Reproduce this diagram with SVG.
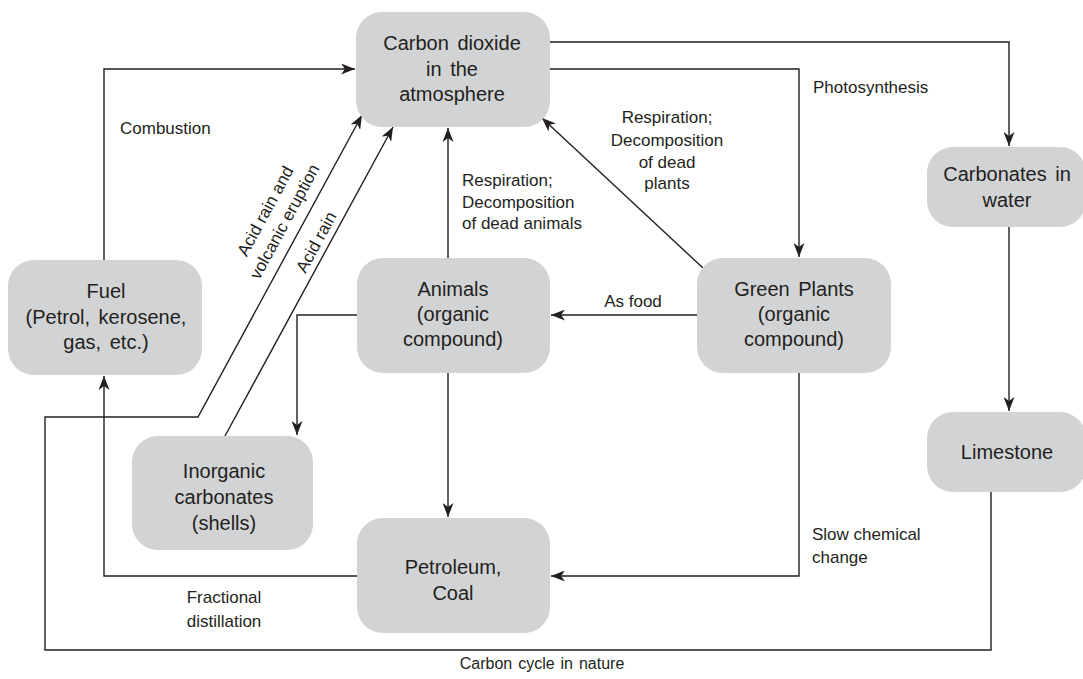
<svg xmlns="http://www.w3.org/2000/svg" width="1083" height="679" viewBox="0 0 1083 679">
<style>
.n rect{fill:#d1d3d4}
.n text{font-family:"Liberation Sans",Arial,sans-serif;font-size:20px;fill:#231f20;text-anchor:middle;word-spacing:3px}
.l{font-family:"Liberation Sans",Arial,sans-serif;font-size:17px;fill:#231f20}
.c{text-anchor:middle}
#connectors path{fill:none;stroke:#231f20;stroke-width:1.4}
</style>
<defs>
<marker id="ah" markerUnits="userSpaceOnUse" markerWidth="15" markerHeight="11" refX="14" refY="5.5" orient="auto">
<path d="M0,0 L14,5.5 L0,11 L4,5.5 z" fill="#231f20"/>
</marker>
</defs>
<rect width="1083" height="679" fill="#fff"/>
<g id="connectors">
<path d="M550,42 H1009 V146" marker-end="url(#ah)"/>
<path d="M550,69 H799 V257" marker-end="url(#ah)"/>
<path d="M703,268 L542,118" marker-end="url(#ah)"/>
<path d="M448,258 V128" marker-end="url(#ah)"/>
<path d="M697,315 H551" marker-end="url(#ah)"/>
<path d="M357,315 H297 V435" marker-end="url(#ah)"/>
<path d="M448,373 V517" marker-end="url(#ah)"/>
<path d="M799,373 V576 H551" marker-end="url(#ah)"/>
<path d="M357,576 H104 V376" marker-end="url(#ah)"/>
<path d="M104,260 V69 H355" marker-end="url(#ah)"/>
<path d="M225,436 L393,127" marker-end="url(#ah)"/>
<path d="M1009,227 V411" marker-end="url(#ah)"/>
<path d="M991,492 V650 H45 V417 H198 L362,115" marker-end="url(#ah)"/>
</g>
<g id="co2" class="n"><rect x="356" y="12" width="194" height="115" rx="26"/>
<text x="452" y="50">Carbon dioxide</text><text x="452" y="76">in the</text><text x="452" y="101">atmosphere</text></g>
<g id="fuel" class="n"><rect x="8" y="260" width="194" height="115" rx="26"/>
<text x="106" y="298">Fuel</text><text x="106" y="324">(Petrol, kerosene,</text><text x="106" y="349">gas, etc.)</text></g>
<g id="animals" class="n"><rect x="357" y="258" width="193" height="115" rx="26"/>
<text x="453" y="296">Animals</text><text x="453" y="321">(organic</text><text x="453" y="346">compound)</text></g>
<g id="plants" class="n"><rect x="697" y="258" width="194" height="115" rx="26"/>
<text x="794" y="296">Green Plants</text><text x="794" y="321">(organic</text><text x="794" y="346">compound)</text></g>
<g id="inorganic" class="n"><rect x="132" y="436" width="181" height="114" rx="26"/>
<text x="224" y="478">Inorganic</text><text x="224" y="504">carbonates</text><text x="224" y="530">(shells)</text></g>
<g id="petroleum" class="n"><rect x="357" y="518" width="193" height="115" rx="26"/>
<text x="453" y="574">Petroleum,</text><text x="453" y="600">Coal</text></g>
<g id="carbonates" class="n"><rect x="927" y="147" width="159" height="80" rx="26"/>
<text x="1007" y="181">Carbonates in</text><text x="1007" y="207">water</text></g>
<g id="limestone" class="n"><rect x="927" y="412" width="159" height="80" rx="26"/>
<text x="1007" y="459">Limestone</text></g>
<g id="labels">
<text class="l" x="120" y="134">Combustion</text>
<text class="l" x="813" y="93">Photosynthesis</text>
<text class="l" x="462" y="186">Respiration;</text>
<text class="l" x="462" y="208">Decomposition</text>
<text class="l" x="462" y="229">of dead animals</text>
<text class="l c" x="667" y="123">Respiration;</text>
<text class="l c" x="667" y="146">Decomposition</text>
<text class="l c" x="667" y="168">of dead</text>
<text class="l c" x="667" y="189">plants</text>
<text class="l c" x="633" y="307">As food</text>
<text class="l" x="812" y="540">Slow chemical</text>
<text class="l" x="812" y="563">change</text>
<text class="l c" x="224" y="603">Fractional</text>
<text class="l c" x="224" y="627">distillation</text>
<g transform="translate(265,211) rotate(-61.6)"><text class="l c" x="0" y="6">Acid rain and</text><text class="l c" x="0" y="28">volcanic eruption</text></g>
<g transform="translate(316,242) rotate(-61.6)"><text class="l c" x="0" y="6">Acid rain</text></g>
<text class="l c" x="542" y="669" style="font-size:16px;word-spacing:1.5px">Carbon cycle in nature</text>
</g>
</svg>
